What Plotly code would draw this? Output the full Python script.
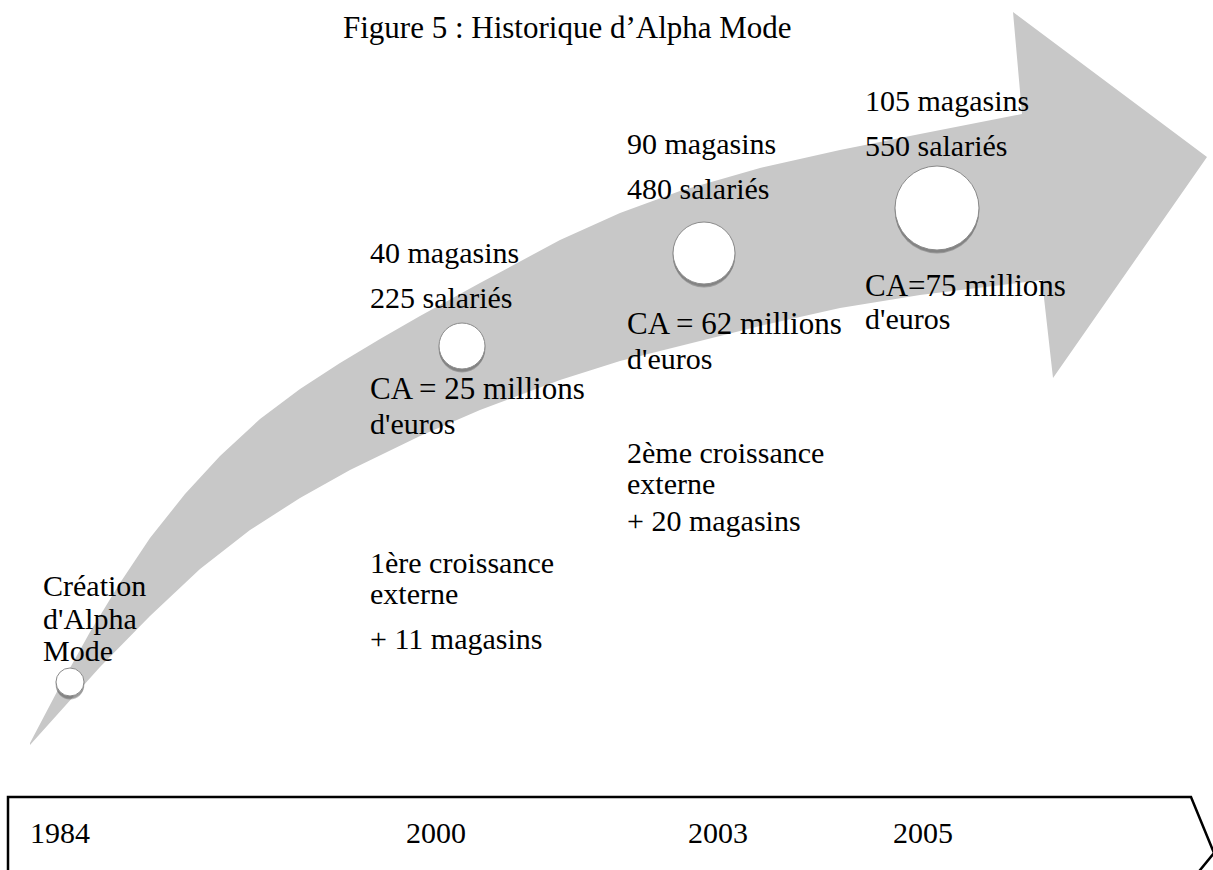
import plotly.graph_objects as go

# ---- data ----
years = [1984, 2000, 2003, 2005]
stores = [None, 40, 90, 105]
employees = [None, 225, 480, 550]
revenue_text = [None, "CA = 25 millions", "CA = 62 millions", "CA=75 millions"]
growth_titles = ["1ère croissance", "2ème croissance"]
growth_stores = [11, 20]

# ---- layout geometry (pixel space) ----
W, H = 1213, 870
FONT = "Liberation Serif, Times New Roman, serif"
FS = 30

upper_x = [30, 60, 90, 120, 150, 185, 220, 260, 300, 340, 380, 420, 480, 560, 620, 680, 760, 840, 920, 1022]
upper_y = [743, 686, 632, 583, 538, 494, 456, 419, 389, 363, 339, 316, 283, 240, 213, 191, 168, 150, 134, 114]
head_x = [1013, 1207, 1053]
head_y = [12, 157, 378]
lower_x = [1042, 920, 840, 760, 680, 620, 560, 480, 420, 350, 300, 250, 200, 150, 100, 65, 30]
lower_y = [280, 295, 308, 326, 346, 361, 380, 410, 436, 470, 498, 530, 569, 616, 667, 706, 745]

circle_x = [70, 462, 704, 937]
circle_y = [682, 346, 253, 208]
circle_d = [28, 46, 62, 84]

col_x = [43, 370, 627, 865]

fig = go.Figure()

# big curved arrow
fig.add_trace(go.Scatter(
    x=upper_x + head_x + lower_x,
    y=upper_y + head_y + lower_y,
    fill="toself", fillcolor="#c8c8c8", mode="lines",
    line=dict(width=0, color="#c8c8c8"), hoverinfo="skip", showlegend=False))

# timeline box
fig.add_trace(go.Scatter(
    x=[8, 8, 1191, 1214, 1196], y=[875, 797, 797, 853, 875], mode="lines",
    line=dict(color="black", width=2.5), hoverinfo="skip", showlegend=False))

shapes = []
for cx, cy, d in zip(circle_x, circle_y, circle_d):
    r = d / 2
    # soft shadow
    shapes.append(dict(type="circle", xref="x", yref="y", x0=cx - r, x1=cx + r,
                       y0=cy - r + 3.5, y1=cy + r + 3.5, fillcolor="rgba(70,70,70,0.35)",
                       line=dict(width=0), layer="above"))
    shapes.append(dict(type="circle", xref="x", yref="y", x0=cx - r - 0.5, x1=cx + r + 0.5,
                       y0=cy - r + 1.5, y1=cy + r + 2.5, fillcolor="rgba(90,90,90,0.35)",
                       line=dict(width=0), layer="above"))
    shapes.append(dict(type="circle", xref="x", yref="y", x0=cx - r, x1=cx + r,
                       y0=cy - r, y1=cy + r, fillcolor="white",
                       line=dict(width=1, color="#8a8a8a"), layer="above"))

ann = []


def txt(x, baseline, s, size=FS):
    ann.append(dict(x=x - 2, y=baseline - 10, text=s, xanchor="left", yanchor="middle",
                    showarrow=False, font=dict(family=FONT, size=size, color="black")))


# creation
txt(col_x[0], 595, "Création")
txt(col_x[0], 628, "d'Alpha")
txt(col_x[0], 660, "Mode")

# milestone columns
top_base = [None, (262, 307, 398, 433), (153, 198, 333, 368), (110, 155, 295, 328)]
for i in range(1, 4):
    b = top_base[i]
    txt(col_x[i], b[0], f"{stores[i]} magasins")
    txt(col_x[i], b[1], f"{employees[i]} salariés")
    txt(col_x[i], b[2], revenue_text[i], size=31)
    txt(col_x[i], b[3], "d'euros")

growth_base = [(572, 603, 648), (462, 493, 530)]
for j in range(2):
    b = growth_base[j]
    txt(col_x[j + 1], b[0], growth_titles[j])
    txt(col_x[j + 1], b[1], "externe")
    txt(col_x[j + 1], b[2], f"+ {growth_stores[j]} magasins")

# years on timeline
year_x = [30, 406, 688, 893]
for yx, yr in zip(year_x, years):
    txt(yx, 842, str(yr))

# title
ann.append(dict(x=567, y=27, text="Figure 5 : Historique d’Alpha Mode", xanchor="center",
                yanchor="middle", showarrow=False,
                font=dict(family=FONT, size=31, color="black")))

fig.update_layout(
    width=W, height=H, margin=dict(l=0, r=0, t=0, b=0),
    paper_bgcolor="white", plot_bgcolor="white",
    xaxis=dict(range=[0, W], visible=False, fixedrange=True),
    yaxis=dict(range=[H, 0], visible=False, fixedrange=True),
    shapes=shapes, annotations=ann, showlegend=False)

fig.write_html(
    "out.html",
    config={"displayModeBar": False},
    post_script="document.body.style.margin='0';document.body.style.overflow='hidden';")
